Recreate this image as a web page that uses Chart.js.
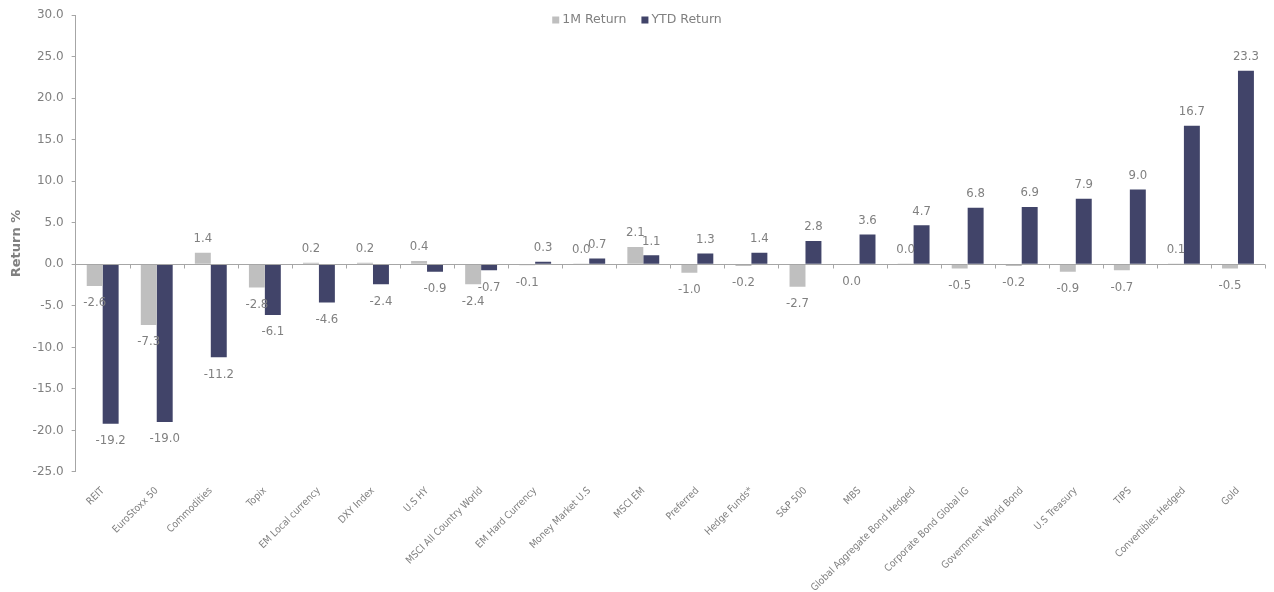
<!DOCTYPE html>
<html>
<head>
<meta charset="utf-8">
<script src="https://cdn.jsdelivr.net/npm/chart.js@4.4.1/dist/chart.umd.min.js"></script>
<style>
  html, body { margin: 0; padding: 0; background: #ffffff; }
  #wrap { width: 1274px; height: 592px; position: relative; }
</style>
</head>
<body>
<div id="wrap"><canvas id="c" width="1274" height="592"></canvas></div>
<script>
const categories = ["REIT", "EuroStoxx 50", "Commodities", "Topix", "EM Local currency", "DXY Index", "U.S HY",
  "MSCI All Country World", "EM Hard Currency", "Money Market U.S", "MSCI EM", "Preferred", "Hedge Funds*",
  "S&P 500", "MBS", "Global Aggregate Bond Hedged", "Corporate Bond Global IG", "Government World Bond",
  "U.S Treasury", "TIPS", "Convertibles Hedged", "Gold"];
const oneMonthReturn = [-2.6, -7.3, 1.4, -2.8, 0.2, 0.2, 0.4, -2.4, -0.1, 0.04, 2.1, -1.0, -0.2, -2.7, -0.04, 0.04, -0.5, -0.2, -0.9, -0.7, 0.1, -0.5];
const ytdReturn = [-19.2, -19.0, -11.2, -6.1, -4.6, -2.4, -0.9, -0.7, 0.3, 0.7, 1.1, 1.3, 1.4, 2.8, 3.6, 4.7, 6.8, 6.9, 7.9, 9.0, 16.7, 23.3];
const seriesNames = ["1M Return", "YTD Return"];
const yTicks = { min: -25, max: 30, step: 5 };

const GRAY = '#BFBFBF';
const NAVY = '#414469';
const TEXT = '#808080';
const AXIS = '#a6a6a6';
const LABEL_FONT = '"Liberation Sans Narrow", "DejaVu Sans Condensed", sans-serif';

function fmt(v) {
  if (Math.abs(v) < 0.05) return '0.0';
  return v.toFixed(1);
}

const dataLabels = {
  id: 'dataLabels',
  afterDatasetsDraw(chart) {
    const ctx = chart.ctx;
    ctx.save();
    ctx.font = '13px ' + LABEL_FONT;
    ctx.fillStyle = TEXT;
    ctx.textAlign = 'center';
    ctx.textBaseline = 'middle';
    chart.data.datasets.forEach((ds, i) => {
      const meta = chart.getDatasetMeta(i);
      meta.data.forEach((bar, j) => {
        const v = ds.data[j];
        const y = v >= 0 ? bar.y - 14 : bar.y + 17;
        ctx.fillText(fmt(v), bar.x, y);
      });
    });
    ctx.restore();
  }
};

const zeroAxis = {
  id: 'zeroAxis',
  afterDatasetsDraw(chart) {
    const ctx = chart.ctx;
    const xs = chart.scales.x, ys = chart.scales.y;
    const y0 = Math.round(ys.getPixelForValue(0)) + 0.5;
    ctx.save();
    ctx.strokeStyle = AXIS;
    ctx.lineWidth = 1;
    ctx.beginPath();
    ctx.moveTo(xs.left, y0);
    ctx.lineTo(xs.right, y0);
    const n = chart.data.labels.length;
    const step = (xs.right - xs.left) / n;
    for (let k = 1; k <= n; k++) {
      const x = Math.round(xs.left + k * step) + 0.5;
      ctx.moveTo(x, y0);
      ctx.lineTo(x, y0 + 4);
    }
    ctx.stroke();
    ctx.restore();
  }
};

const customLegend = {
  id: 'customLegend',
  afterDraw(chart) {
    const ctx = chart.ctx;
    ctx.save();
    ctx.font = '12.5px "DejaVu Sans", sans-serif';
    ctx.textBaseline = 'middle';
    const box = 7, gapBox = 3, gapItem = 15;
    const items = chart.data.datasets.map(ds => ({ label: ds.label, color: ds.backgroundColor }));
    let total = 0;
    items.forEach((it, i) => { it.w = box + gapBox + ctx.measureText(it.label).width; total += it.w + (i ? gapItem : 0); });
    const cx = chart.width / 2;
    let x = cx - total / 2;
    const y = 20;
    items.forEach(it => {
      ctx.fillStyle = it.color;
      ctx.fillRect(x, y - box / 2, box, box);
      ctx.fillStyle = TEXT;
      ctx.fillText(it.label, x + box + gapBox, y);
      x += it.w + gapItem;
    });
    ctx.restore();
  }
};

new Chart(document.getElementById('c'), {
  type: 'bar',
  data: {
    labels: categories,
    datasets: [
      { label: seriesNames[0], data: oneMonthReturn, backgroundColor: GRAY, borderWidth: 0,
        categoryPercentage: 0.59, barPercentage: 1.0 },
      { label: seriesNames[1], data: ytdReturn, backgroundColor: NAVY, borderWidth: 0,
        categoryPercentage: 0.59, barPercentage: 1.0 }
    ]
  },
  options: {
    responsive: false,
    animation: false,
    layout: { padding: { top: 8, right: 9, left: 9, bottom: -7 } },
    plugins: {
      legend: { display: false },
      tooltip: { enabled: false }
    },
    scales: {
      x: {
        grid: { display: false },
        border: { display: false },
        ticks: {
          autoSkip: false, maxRotation: 45, minRotation: 45, padding: 5,
          color: TEXT, font: { family: '"DejaVu Sans Condensed", "DejaVu Sans", sans-serif', size: 10 }
        }
      },
      y: {
        min: yTicks.min, max: yTicks.max,
        grid: { drawOnChartArea: false, color: AXIS, tickLength: 4 },
        border: { color: AXIS },
        ticks: {
          stepSize: yTicks.step, padding: 8, color: TEXT,
          font: { family: '"DejaVu Sans", sans-serif', size: 12 },
          callback: v => Number(v).toFixed(1)
        },
        title: {
          display: true, text: 'Return %', color: TEXT,
          font: { family: '"DejaVu Sans", sans-serif', size: 13, weight: 'bold' },
          padding: { top: 0, bottom: 0 }
        }
      }
    }
  },
  plugins: [dataLabels, zeroAxis, customLegend]
});
</script>
</body>
</html>
